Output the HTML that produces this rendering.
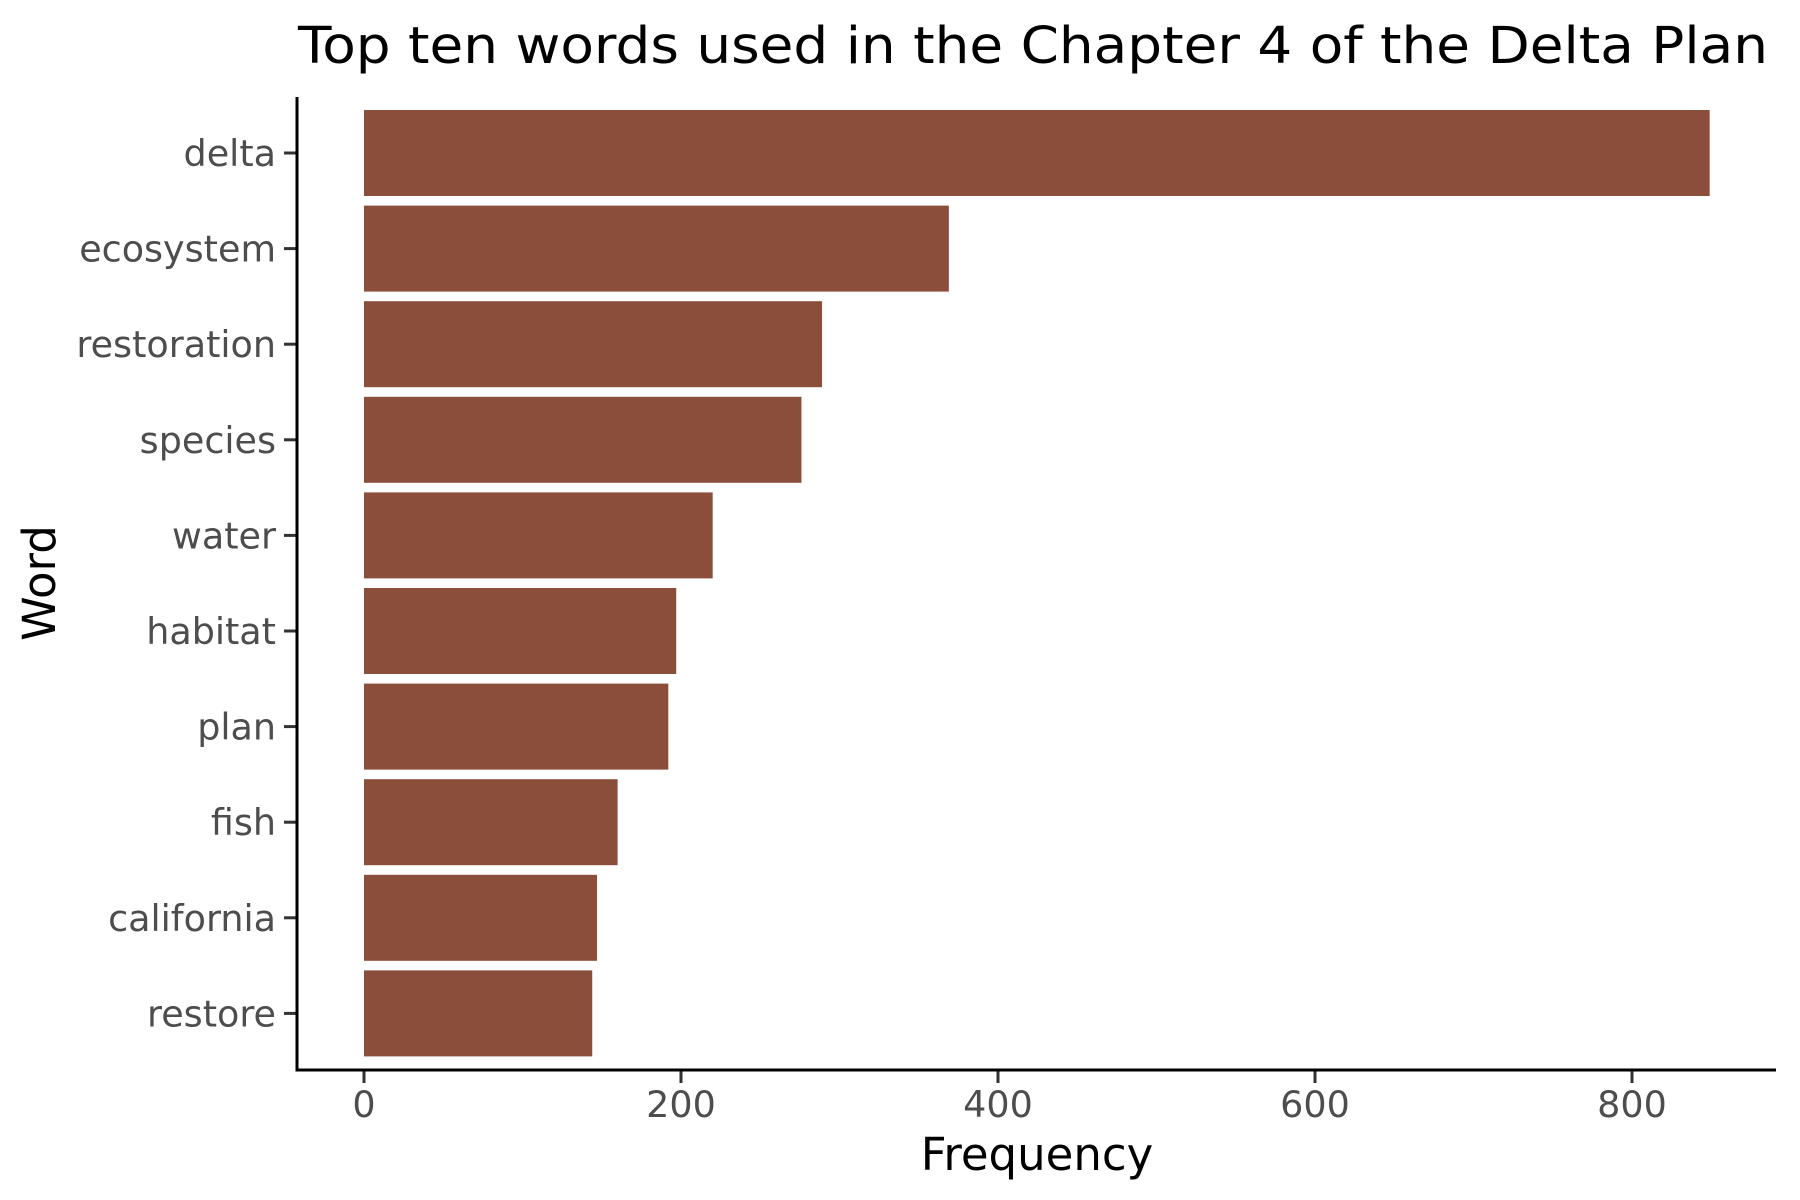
<!DOCTYPE html>
<html><head><meta charset="utf-8"><style>
html,body{margin:0;padding:0;background:#fff;}
svg{display:block;font-family:"DejaVu Sans","Liberation Sans",sans-serif;}
</style></head><body>
<svg id="chart" width="1800" height="1200" viewBox="0 0 1800 1200" xmlns="http://www.w3.org/2000/svg">
<text x="298" y="63" font-size="51" fill="#000" textLength="1470" lengthAdjust="spacingAndGlyphs">Top ten words used in the Chapter 4 of the Delta Plan</text>
<g id="bars"></g>
<g id="yaxis"></g>
<g id="xaxis"></g>
<line x1="297" y1="97" x2="297" y2="1071.5" stroke="#000" stroke-width="3"/>
<line x1="295.5" y1="1070" x2="1776" y2="1070" stroke="#000" stroke-width="3"/>
<text x="1037" y="1170" font-size="45" text-anchor="middle" fill="#000">Frequency</text>
<text transform="translate(55,583) rotate(-90)" font-size="45" text-anchor="middle" fill="#000">Word</text>
</svg>
<script>
const words = ["delta","ecosystem","restoration","species","water","habitat","plan","fish","california","restore"];
const counts = [849,369,289,276,220,197,192,160,147,144];
const xTicks = [0,200,400,600,800];
const NS="http://www.w3.org/2000/svg";
function xScale(v){return 364 + v*1.585;}
function yCenter(i){return 153 + i*95.6;}
const barH=86;
const bars=document.getElementById('bars'),ya=document.getElementById('yaxis'),xa=document.getElementById('xaxis');
words.forEach((w,i)=>{
  const r=document.createElementNS(NS,'rect');
  
  
  r.setAttribute('x',xScale(0));r.setAttribute('y',yCenter(i)-barH/2);
  r.setAttribute('width',xScale(counts[i])-xScale(0));r.setAttribute('height',barH);
  r.setAttribute('fill','#8B4E3B');
  bars.appendChild(r);
  const t=document.createElementNS(NS,'line');
  
  
  t.setAttribute('x1',284);t.setAttribute('x2',297);t.setAttribute('y1',yCenter(i));t.setAttribute('y2',yCenter(i));
  t.setAttribute('stroke','#333');t.setAttribute('stroke-width','3');
  ya.appendChild(t);
  const l=document.createElementNS(NS,'text');
  
  
  l.setAttribute('x',276);l.setAttribute('y',yCenter(i)+13);
  l.setAttribute('font-size','36.5');l.setAttribute('text-anchor','end');l.setAttribute('fill','#4d4d4d');
  l.textContent=w;ya.appendChild(l);
});
xTicks.forEach(v=>{
  const t=document.createElementNS(NS,'line');
  
  
  t.setAttribute('x1',xScale(v));t.setAttribute('x2',xScale(v));t.setAttribute('y1',1070);t.setAttribute('y2',1083);
  t.setAttribute('stroke','#333');t.setAttribute('stroke-width','3');
  xa.appendChild(t);
  const l=document.createElementNS(NS,'text');
  
  
  l.setAttribute('x',xScale(v));l.setAttribute('y',1117);
  l.setAttribute('font-size','36.5');l.setAttribute('text-anchor','middle');l.setAttribute('fill','#4d4d4d');
  l.textContent=v;xa.appendChild(l);
});
</script>
</body></html>
